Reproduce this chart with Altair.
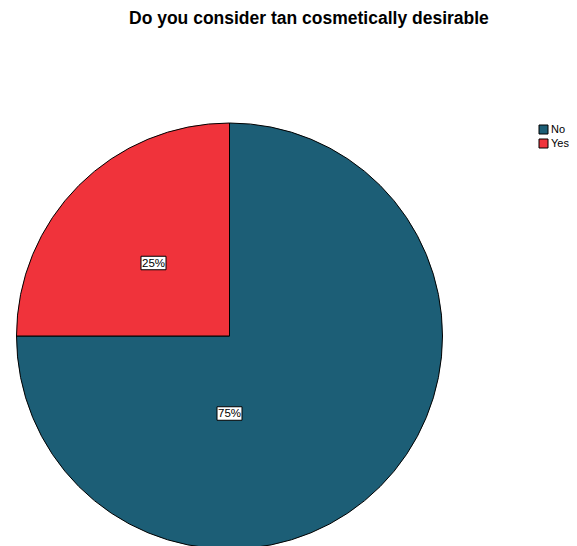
import altair as alt
import pandas as pd

# ---- data ----
categories = ["No", "Yes"]
percents = [75, 25]
colors = ["#1c5e76", "#f0333b"]
title_text = "Do you consider tan cosmetically desirable"

df = pd.DataFrame({"answer": categories, "percent": percents})
df["label"] = df["percent"].astype(str) + "%"

# ---- layout (pixels, relative to the plot area) ----
CX, CY, R = 221.5, 288, 213
# label placement offsets from pie centre, per category
label_offsets = {"No": (0, 77.5), "Yes": (-76, -73)}
FONT = "Liberation Sans"

base = alt.Chart(df)

pie = base.mark_arc(outerRadius=R, stroke="black", strokeWidth=1, opacity=1).encode(
    theta=alt.Theta("percent:Q", stack=True),
    color=alt.Color(
        "answer:N",
        scale=alt.Scale(domain=categories, range=colors),
        legend=alt.Legend(
            title=None,
            orient="none",
            legendX=530,
            legendY=76,
            symbolType="square",
            symbolSize=81,
            symbolStrokeColor="black",
            symbolStrokeWidth=1,
            symbolOpacity=1,
            labelFont=FONT,
            labelFontSize=11,
            labelColor="black",
            labelOffset=2,
            rowPadding=1,
            padding=0,
        ),
    ),
    order=alt.Order("answer:N", sort="ascending"),
    x=alt.value(CX),
    y=alt.value(CY),
)

layers = [pie]
box_path = "M-1,-0.54H1V0.54H-1Z"
for cat in categories:
    dx, dy = label_offsets[cat]
    sub = base.transform_filter(alt.datum.answer == cat)
    box = sub.mark_point(
        shape=box_path, filled=True, fill="white", stroke="black",
        strokeWidth=1, opacity=1, size=625,
    ).encode(x=alt.value(CX + dx), y=alt.value(CY + dy))
    txt = sub.mark_text(
        font=FONT, fontSize=11.5, color="black", align="center", baseline="middle",
    ).encode(text="label:N", x=alt.value(CX + dx), y=alt.value(CY + dy + 0.5))
    layers += [box, txt]

chart = alt.layer(*layers).properties(
    width=561,
    height=498,
    padding={"left": 0, "top": 40, "right": 0, "bottom": 0},
    autosize=alt.AutoSizeParams(type="none"),
    title=alt.TitleParams(
        title_text, font=FONT, fontSize=17.5, fontWeight="bold",
        anchor="start", dx=121, color="black", offset=21,
    ),
).configure(background="white").configure_view(stroke=None, strokeWidth=0)

chart.save("out.html", embed_options={"renderer": "svg", "actions": False})
